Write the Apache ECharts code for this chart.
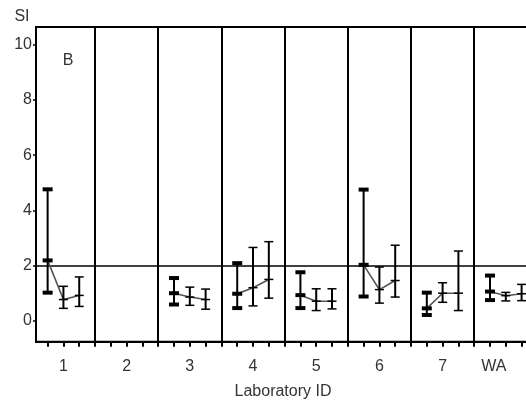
<!DOCTYPE html>
<html><head><meta charset="utf-8">
<script src="https://cdn.jsdelivr.net/npm/echarts@6/dist/echarts.min.js"></script>
<style>html,body{margin:0;padding:0;background:#fff}#c{width:526px;height:407px}</style>
</head><body><div id="c"></div>
<script>
const labs = ['1','2','3','4','5','6','7','WA'];
const mean1 = [2.18, null, 0.99, 0.97, 0.92, 2.02, 0.44, 1.05];
const low1  = [1.01, null, 0.58, 0.45, 0.45, 0.87, 0.20, 0.74];
const high1 = [4.76, null, 1.54, 2.08, 1.75, 4.75, 1.01, 1.63];
const mean2 = [0.76, null, 0.85, 1.19, 0.70, 1.12, 0.99, 0.90];
const low2  = [0.44, null, 0.55, 0.53, 0.36, 0.63, 0.66, 0.71];
const high2 = [1.24, null, 1.21, 2.65, 1.15, 1.94, 1.37, 1.02];
const mean3 = [0.91, null, 0.76, 1.49, 0.70, 1.45, 0.99, 0.97];
const low3  = [0.51, null, 0.41, 0.81, 0.42, 0.85, 0.36, 0.72];
const high3 = [1.58, null, 1.14, 2.86, 1.15, 2.73, 2.52, 1.31];
const yTicks = [0, 2, 4, 6, 8, 10];
const refLine = 2;

const OFF = 0.25;
const groupIdx = labs.map((_, i) => i);
const pointPos = [];
groupIdx.forEach(k => { pointPos.push(k - OFF, k, k + OFF); });
const sepPos = groupIdx.slice(0, -1).map(k => k + 0.5);
const tickPos = pointPos.concat(sepPos);

const data = labs.map((_, k) => [k, mean1[k], low1[k], high1[k], mean2[k], low2[k], high2[k], mean3[k], low3[k], high3[k]]);

function renderItem(params, api) {
  const k = api.value(0);
  if (api.value(1) == null || isNaN(api.value(1))) return null;
  const children = [];
  const pts = [];
  for (let j = 0; j < 3; j++) {
    const x = k + (j - 1) * OFF;
    const m = api.value(1 + j * 3), lo = api.value(2 + j * 3), hi = api.value(3 + j * 3);
    const pm = api.coord([x, m]), pl = api.coord([x, lo]), ph = api.coord([x, hi]);
    pts.push(pm);
    children.push({type: 'line', shape: {x1: pl[0], y1: pl[1], x2: ph[0], y2: ph[1]},
      style: {stroke: '#000', lineWidth: 2}, z2: 5});
    [pl, pm, ph].forEach(p => {
      if (j === 0) {
        children.push({type: 'rect', shape: {x: p[0] - 5, y: p[1] - 2, width: 10, height: 4},
          style: {fill: '#000'}, z2: 6});
      } else {
        children.push({type: 'line', shape: {x1: p[0] - 4.5, y1: p[1], x2: p[0] + 4.5, y2: p[1]},
          style: {stroke: '#000', lineWidth: 1.5}, z2: 6});
      }
    });
  }
  children.unshift({type: 'polyline', shape: {points: pts},
    style: {stroke: '#555', lineWidth: 1.6, fill: null}, z2: 4});
  return {type: 'group', children: children};
}

const chart = echarts.init(document.getElementById('c'), null, {renderer: 'canvas'});
const font = '"Liberation Sans", Arial, sans-serif';
const txt = '#333';
chart.setOption({
  animation: false,
  textStyle: {fontFamily: font},
  grid: {left: 36, top: 27, width: 501.4, height: 314.7, containLabel: false, outerBoundsMode: 'none',
    show: true, borderColor: '#000', borderWidth: 2, backgroundColor: 'transparent'},
  xAxis: {
    type: 'value', min: -0.434, max: 7.5,
    splitLine: {show: false},
    axisLine: {show: true, onZero: false, lineStyle: {color: '#000', width: 2}},
    axisTick: {show: true, customValues: tickPos, length: 5, lineStyle: {color: '#000', width: 2}},
    axisLabel: {
      customValues: groupIdx, margin: 17, color: txt, fontSize: 16, fontFamily: font,
      formatter: v => { const s = labs[Math.round(v)]; return s === 'WA' ? '{wa|WA}' : s; },
      rich: {wa: {padding: [0, 24, 0, 0], color: txt, fontSize: 16, fontFamily: font}}
    }
  },
  yAxis: {
    type: 'value', min: -0.77, max: 10.65,
    splitLine: {show: false},
    axisLine: {show: true, onZero: false, lineStyle: {color: '#000', width: 2}},
    axisTick: {show: true, customValues: yTicks, length: 3, lineStyle: {color: '#000', width: 1.5}},
    axisLabel: {customValues: yTicks, margin: 4, color: txt, fontSize: 16, fontFamily: font}
  },
  graphic: [
    {type: 'text', x: 22, y: 17, style: {text: 'SI', fontSize: 16, fill: txt, fontFamily: font, align: 'center', verticalAlign: 'middle'}},
    {type: 'text', x: 68, y: 61, style: {text: 'B', fontSize: 16, fill: txt, fontFamily: font, align: 'center', verticalAlign: 'middle'}},
    {type: 'text', x: 283, y: 392, style: {text: 'Laboratory ID', fontSize: 16, fill: txt, fontFamily: font, align: 'center', verticalAlign: 'middle'}}
  ],
  series: [{
    type: 'custom', renderItem: renderItem, data: data, clip: false, z: 5,
    encode: {x: 0, y: [1, 2, 3]},
    markLine: {
      silent: true, symbol: 'none', label: {show: false}, animation: false,
      lineStyle: {color: '#000', width: 2, type: 'solid'},
      data: sepPos.map(v => ({xAxis: v})).concat([{yAxis: refLine, lineStyle: {color: '#000', width: 1.6, type: 'solid'}}])
    }
  }]
});
</script></body></html>
